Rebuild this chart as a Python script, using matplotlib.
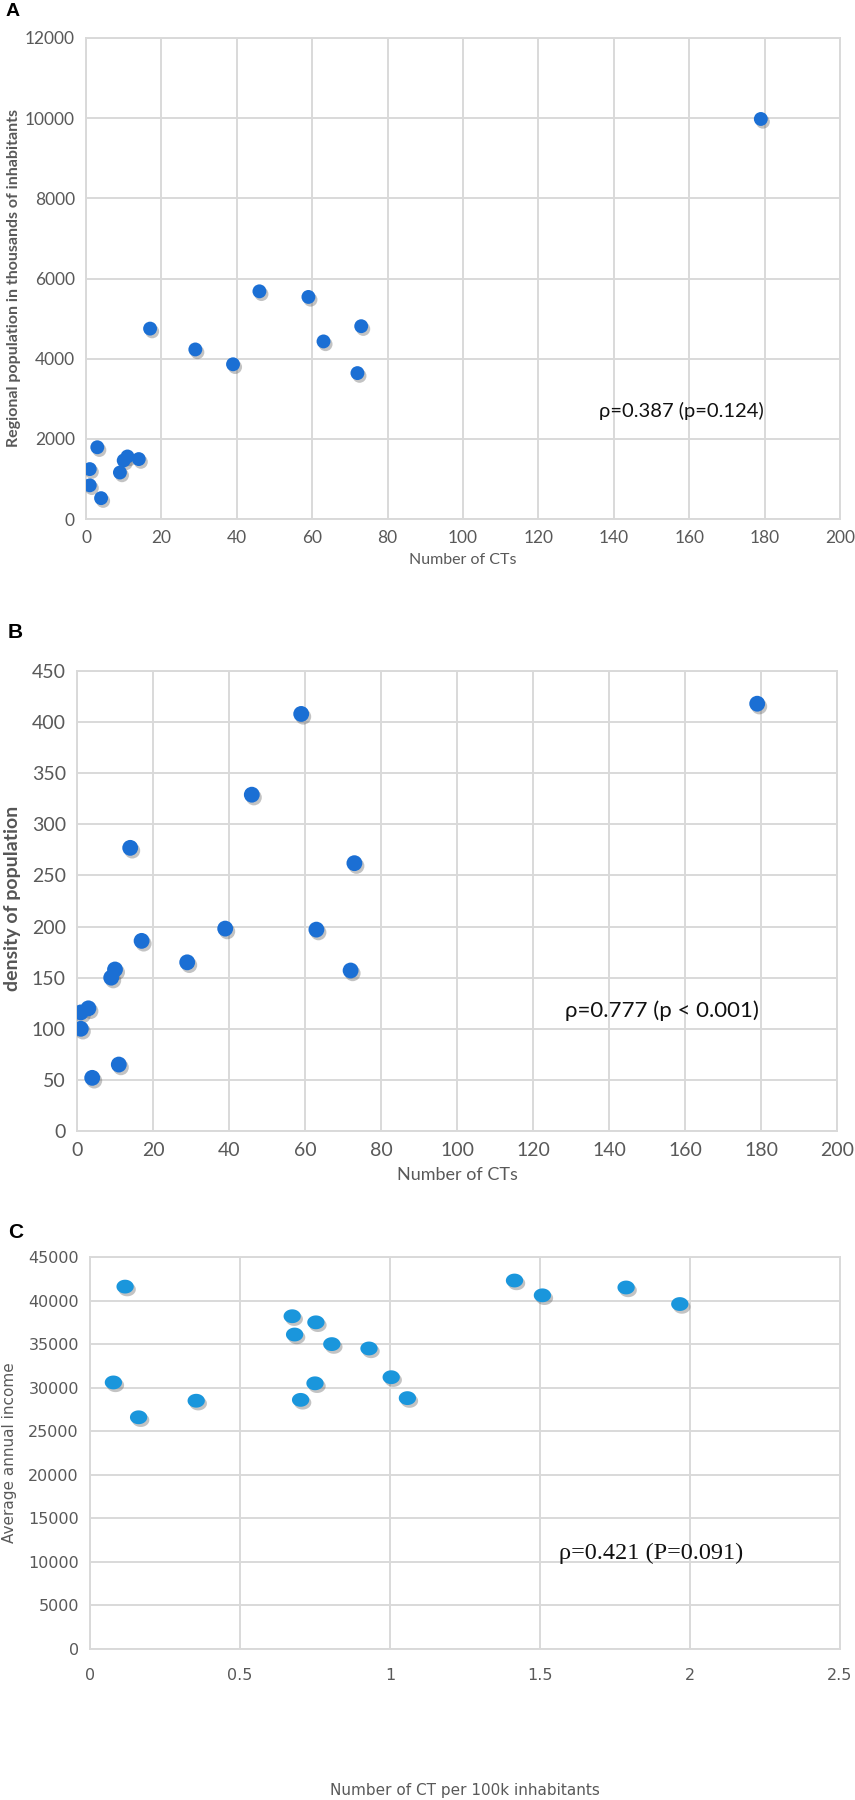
import numpy as np
import matplotlib
matplotlib.use("Agg")
import matplotlib.pyplot as plt
import matplotlib.patheffects as pe

# ---------------- data ----------------
# Panel A: number of CTs vs regional population (thousands)
ct_a = [17, 29, 39, 46, 59, 63, 73, 72, 3, 1, 1, 4, 9, 10, 11, 14, 179]
pop_a = [4750, 4230, 3860, 5680, 5540, 4430, 4810, 3640, 1790, 1245, 840, 520, 1160, 1460, 1560, 1495, 9980]

# Panel B: number of CTs vs population density
ct_b = [59, 46, 14, 73, 39, 63, 17, 29, 72, 10, 9, 3, 1, 1, 11, 4, 179]
dens_b = [408, 329, 277, 262, 198, 197, 186, 165, 157, 158, 150, 120, 116, 100, 65, 52, 418]

# Panel C: CT per 100k inhabitants vs average annual income
ct100k_c = [0.117, 0.078, 0.162, 0.354, 0.674, 0.682, 0.753, 0.806, 0.93, 0.75, 0.702,
            1.004, 1.058, 1.415, 1.508, 1.787, 1.966]
income_c = [41600, 30600, 26600, 28500, 38200, 36100, 37500, 35000, 34500, 30500, 28600,
            31200, 28800, 42300, 40600, 41500, 39600]

xticks_ab = list(range(0, 201, 20))
yticks_a = list(range(0, 12001, 2000))
yticks_b = list(range(0, 451, 50))
xticks_c = [0, 0.5, 1, 1.5, 2, 2.5]
xticklabels_c = ["0", "0.5", "1", "1.5", "2", "2.5"]
yticks_c = list(range(0, 45001, 5000))

# ---------------- layout helpers ----------------
W, H = 855, 1800
fig = plt.figure(figsize=(W / 100, H / 100), dpi=100)
fig.patch.set_facecolor("white")

def axes_px(left, top, right, bottom):
    return fig.add_axes([left / W, 1 - bottom / H, (right - left) / W, (bottom - top) / H])

def ftext(x, y, s, **kw):
    fig.text(x / W, 1 - y / H, s, **kw)

GRID = "#d9d9d9"
TICKC = "#595959"
shadow = [pe.SimplePatchShadow(offset=(1.5, -2.0), shadow_rgbFace="#555555", alpha=0.35), pe.Normal()]

def style(ax, fam, fs):
    for sp in ax.spines.values():
        sp.set_color(GRID)
        sp.set_linewidth(1.4)
    ax.grid(True, color=GRID, linewidth=1.4)
    ax.set_axisbelow(True)
    ax.tick_params(length=0, labelcolor=TICKC, labelsize=fs, pad=8)
    for lab in ax.get_xticklabels() + ax.get_yticklabels():
        lab.set_family(fam)

# ---------------- Panel A ----------------
axA = axes_px(86, 38, 840, 519)
axA.scatter(ct_a, pop_a, s=100, color="#1b6fd4", edgecolors="none", zorder=3, path_effects=shadow)
axA.set_xlim(0, 200)
axA.set_ylim(0, 12000)
axA.set_xticks(xticks_ab)
axA.set_yticks(yticks_a)
style(axA, "Lato", 12.5)
axA.text(158, 2700, "ρ=0.387 (p=0.124)", ha="center", va="center", fontsize=14.5,
         family=["Lato", "DejaVu Sans"], color="#111111")
ftext(6, 12, "A", fontsize=14, fontweight="bold", family="Liberation Sans", va="center")
ftext(14, 278, "Regional population in thousands of inhabitants", rotation=90, ha="center",
      va="center", fontsize=11.5, fontweight="bold", family="Lato", color=TICKC)
ftext(463, 560, "Number of CTs", ha="center", va="center", fontsize=11.5, family="Lato", color=TICKC)

# ---------------- Panel B ----------------
axB = axes_px(77, 671, 837, 1131)
axB.scatter(ct_b, dens_b, s=130, color="#1b6fd4", edgecolors="none", zorder=3, path_effects=shadow)
axB.set_xlim(0, 200)
axB.set_ylim(0, 450)
axB.set_xticks(xticks_ab)
axB.set_yticks(yticks_b)
style(axB, "Lato", 14)
axB.text(154, 118, "ρ=0.777 (p < 0.001)", ha="center", va="center", fontsize=16,
         family=["Lato", "DejaVu Sans"], color="#111111")
ftext(8, 633, "B", fontsize=15, fontweight="bold", family="Liberation Sans", va="center")
ftext(13, 898, "density of population", rotation=90, ha="center", va="center",
      fontsize=14, fontweight="bold", family="Lato", color="#555555")
ftext(457, 1175, "Number of CTs", ha="center", va="center", fontsize=13, family="Lato", color=TICKC)

# ---------------- Panel C ----------------
axC = axes_px(90, 1257, 840, 1649)
t = np.linspace(0, 2 * np.pi, 60)
ellipse = np.column_stack([1.25 * np.cos(t), np.sin(t)])
axC.scatter(ct100k_c, income_c, s=155, marker=ellipse, color="#1a96dc", edgecolors="none",
            zorder=3, path_effects=shadow)
axC.set_xlim(0, 2.5)
axC.set_ylim(0, 45000)
axC.set_xticks(xticks_c)
axC.set_xticklabels(xticklabels_c)
axC.set_yticks(yticks_c)
style(axC, "DejaVu Sans", 11.5)
axC.tick_params(axis="x", pad=14)
axC.text(1.87, 11000, "ρ=0.421 (P=0.091)", ha="center", va="center", fontsize=17.5,
         family="Liberation Serif", color="#111111")
ftext(8, 1233, "C", fontsize=15, fontweight="bold", family="Liberation Sans", va="center")
ftext(10, 1453, "Average annual income", rotation=90, ha="center", va="center",
      fontsize=11, family="DejaVu Sans", color=TICKC)
ftext(465, 1790, "Number of CT per 100k inhabitants", ha="center", va="center",
      fontsize=11, family="DejaVu Sans", color=TICKC)

fig.savefig("out.png", dpi=100, facecolor="white")
